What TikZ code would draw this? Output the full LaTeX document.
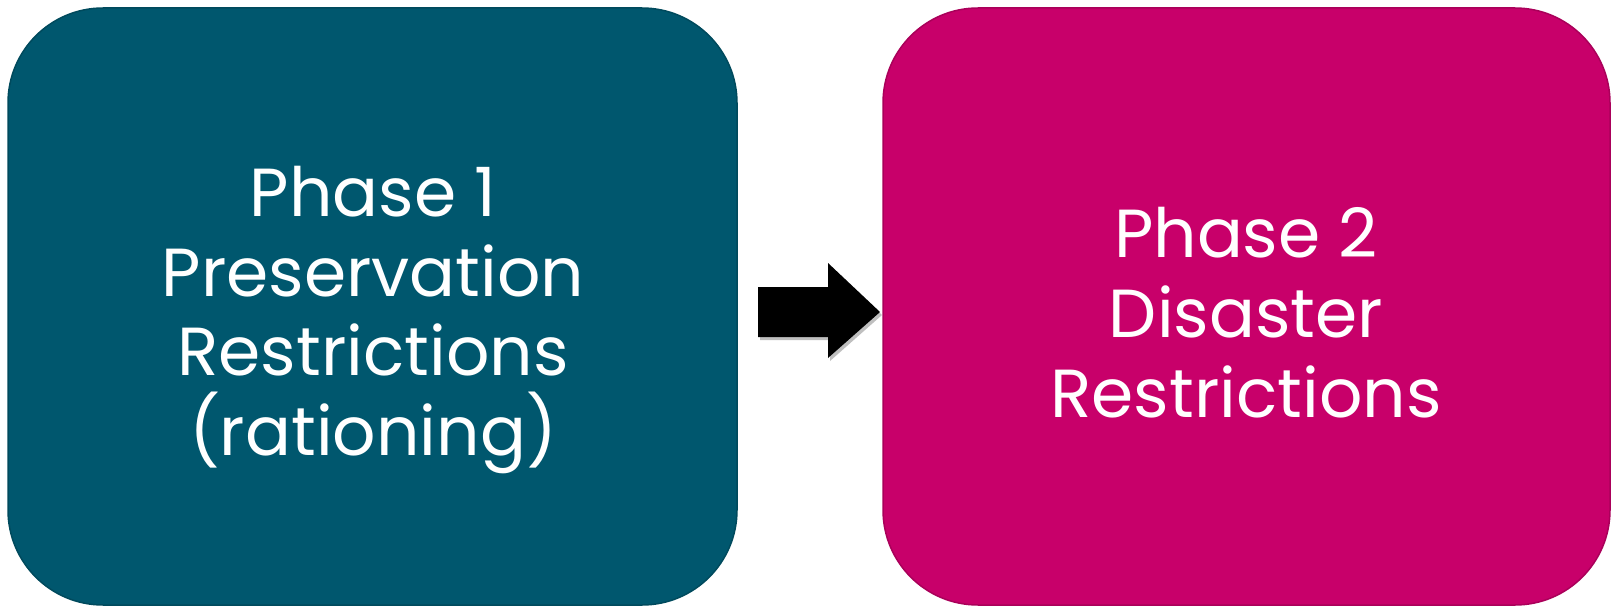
\documentclass[tikz,border=0pt]{standalone}
\usepackage{fontspec}
\setmainfont{Poppins}
\definecolor{tealbox}{RGB}{0,87,110}
\definecolor{pinkbox}{RGB}{200,0,106}
\tikzset{
  phasebox/.style={rounded corners=95pt, line width=1.5pt},
  phasetext/.style={text=white, align=center, font=\fontsize{68}{80}\selectfont, inner sep=0pt},
}
\begin{document}
\begin{tikzpicture}[x=1pt,y=-1pt]
\useasboundingbox (0,0) rectangle (1612,610);
\fill[white] (0,0) rectangle (1612,610);
% boxes
\draw[phasebox, fill=tealbox, draw=tealbox!85!black] (8,8) rectangle (737,605);
\draw[phasebox, fill=pinkbox, draw=pinkbox!85!black] (883,8) rectangle (1610,605);
\coordinate (c1) at (373,306);
\coordinate (c2) at (1246,306);
\node[phasetext, anchor=base] (t1a) at (373,216) {Phase 1};
\node[phasetext, anchor=base] (t1b) at (373,296) {Preservation};
\node[phasetext, anchor=base] (t1c) at (373,375) {Restrictions};
\node[phasetext, anchor=base] (t1d) at (373,455) {(rationing)};
\node[phasetext, anchor=base] (t2a) at (1246,257) {Phase 2};
\node[phasetext, anchor=base] (t2b) at (1246,337) {Disaster};
\node[phasetext, anchor=base] (t2c) at (1246,417) {Restrictions};
% arrow
\fill[black!25] (760,290) -- (830,290) -- (830,266) -- (882,315) -- (830,361) -- (830,340) -- (760,340) -- cycle;
\fill[black] (758,287) -- (828,287) -- (828,263) -- (880,312) -- (828,358) -- (828,337) -- (758,337) -- cycle;
\end{tikzpicture}
\end{document}
